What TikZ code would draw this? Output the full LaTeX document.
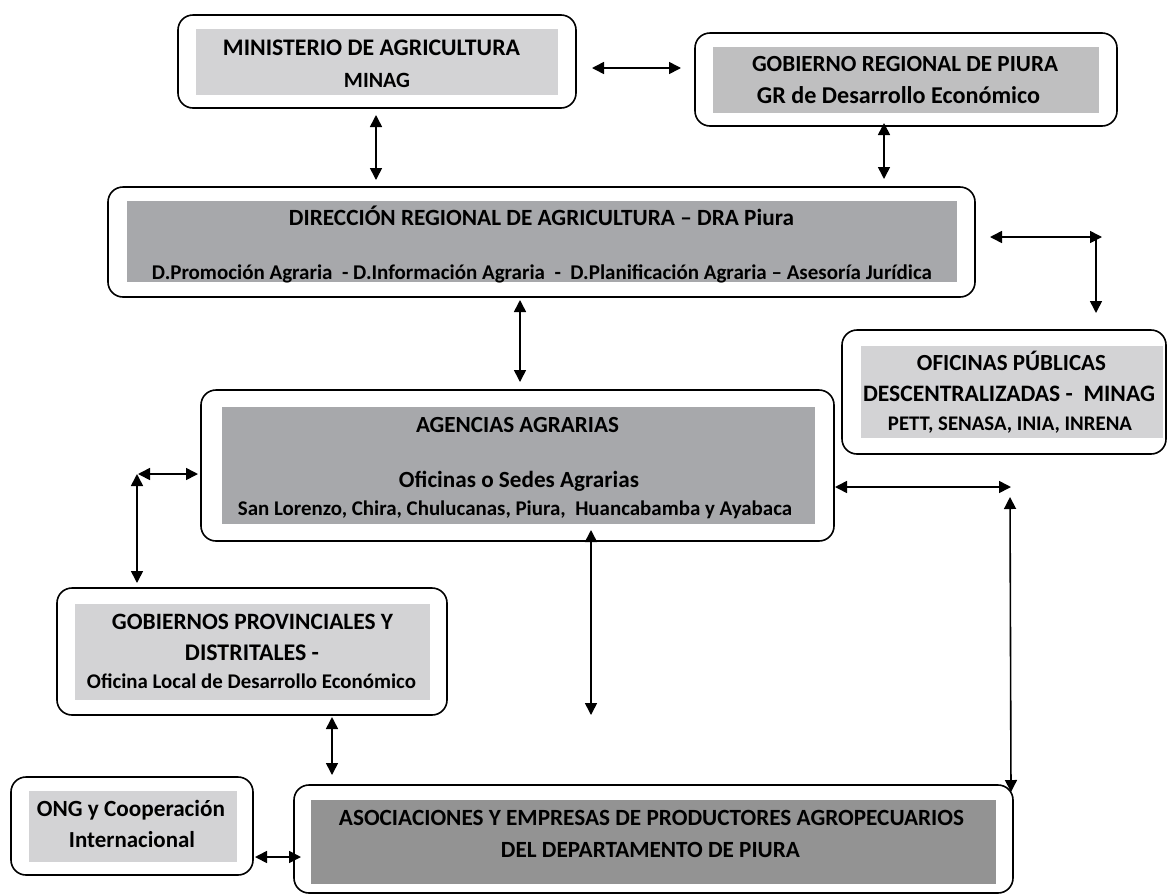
\documentclass[tikz,border=0pt]{standalone}
\usepackage{fontspec}
\setmainfont{Carlito}
\usepackage{graphicx}
\usetikzlibrary{arrows.meta}
\definecolor{lgray}{HTML}{D3D3D5}
\definecolor{ggray}{HTML}{BFBFC0}
\definecolor{mgray}{HTML}{A7A8AB}
\definecolor{dgray}{HTML}{939393}
\newcommand{\fitw}[2]{\resizebox{#1pt}{!}{\bfseries #2}}
\tikzset{
  obox/.style={draw=black, line width=1.6pt, rounded corners=15pt, inner sep=0pt, fill=white},
  ibox/.style={draw=none, inner sep=0pt},
  txt/.style={inner sep=0pt, anchor=base, text=black},
  arr/.style={{Triangle[length=12pt,width=12pt]}-{Triangle[length=12pt,width=12pt]}, line width=1.6pt},
  arrend/.style={-{Triangle[length=12pt,width=12pt]}, line width=1.6pt},
  plain/.style={line width=1.6pt}
}
\begin{document}
\begin{tikzpicture}[x=1pt,y=-1pt]
\useasboundingbox (0,0) rectangle (1168,895);
% ---------- boxes ----------
\node[obox, minimum width=398pt, minimum height=93pt] (minag) at (377,61.5) {};
\node[ibox, fill=lgray, minimum width=362pt, minimum height=66pt] (minagin) at (377,62) {};
\node[txt] (minagt1) at (371.5,55) {\fitw{297}{MINISTERIO DE AGRICULTURA}};
\node[txt] (minagt2) at (377,87) {\fitw{66}{MINAG}};

\node[obox, minimum width=422pt, minimum height=93pt] (gr) at (906,79.5) {};
\node[ibox, fill=ggray, minimum width=386pt, minimum height=66pt] (grin) at (906,80) {};
\node[txt] (grt1) at (905,71) {\fitw{306}{GOBIERNO REGIONAL DE PIURA}};
\node[txt] (grt2) at (898.5,103) {\fitw{283}{GR de Desarrollo Económico}};

\node[obox, minimum width=867pt, minimum height=110pt] (dra) at (541.5,242) {};
\node[ibox, fill=mgray, minimum width=830pt, minimum height=81pt] (drain) at (542,241.5) {};
\node[txt] (drat1) at (541.5,225) {\fitw{505}{DIRECCIÓN REGIONAL DE AGRICULTURA – DRA Piura}};
\node[txt] (drat2) at (542,279) {\fitw{780}{D.Promoción Agraria \ - D.Información Agraria \ - \ D.Planificación Agraria – Asesoría Jurídica}};

\node[obox, minimum width=324pt, minimum height=124pt] (ofic) at (1004,392) {};
\node[ibox, fill=lgray, minimum width=302pt, minimum height=92pt] (oficin) at (1012,392) {};
\node[txt] (ofict1) at (1011.5,370) {\fitw{189}{OFICINAS PÚBLICAS}};
\node[txt] (ofict2) at (1009,401) {\fitw{292}{DESCENTRALIZADAS - \ MINAG}};
\node[txt] (ofict3) at (1010,430) {\fitw{244}{PETT, SENASA, INIA, INRENA}};

\node[obox, minimum width=633pt, minimum height=151pt] (ag) at (517.5,465.5) {};
\node[ibox, fill=mgray, minimum width=593pt, minimum height=117pt] (agin) at (518.5,465.5) {};
\node[txt] (agt1) at (517.5,432) {\fitw{203}{AGENCIAS AGRARIAS}};
\node[txt] (agt2) at (519,487) {\fitw{240}{Oficinas o Sedes Agrarias}};
\node[txt] (agt3) at (515,515) {\fitw{554}{San Lorenzo, Chira, Chulucanas, Piura, \ Huancabamba y Ayabaca}};

\node[obox, minimum width=390pt, minimum height=127pt] (gob) at (252,651.5) {};
\node[ibox, fill=lgray, minimum width=355pt, minimum height=96pt] (gobin) at (252.5,652) {};
\node[txt] (gobt1) at (252.5,629) {\fitw{281}{GOBIERNOS PROVINCIALES Y}};
\node[txt] (gobt2) at (252,660) {\fitw{134}{DISTRITALES -}};
\node[txt] (gobt3) at (251.5,688) {\fitw{329}{Oficina Local de Desarrollo Económico}};

\node[obox, minimum width=242pt, minimum height=98pt] (ong) at (132,826) {};
\node[ibox, fill=lgray, minimum width=208pt, minimum height=71pt] (ongin) at (133,826.5) {};
\node[txt] (ongt1) at (131,816) {\fitw{188}{ONG y Cooperación}};
\node[txt] (ongt2) at (132,847) {\fitw{126}{Internacional}};

\node[obox, minimum width=719pt, minimum height=108pt] (asoc) at (653.5,839) {};
\node[ibox, fill=dgray, minimum width=685pt, minimum height=84pt] (asocin) at (653.5,842) {};
\node[txt] (asoct1) at (651.5,825) {\fitw{625}{ASOCIACIONES Y EMPRESAS DE PRODUCTORES AGROPECUARIOS}};
\node[txt] (asoct2) at (650.5,857) {\fitw{299}{DEL DEPARTAMENTO DE PIURA}};

% ---------- connector end points ----------
\coordinate (a1s) at (592,68);   \coordinate (a1e) at (681,68);
\coordinate (a2s) at (376,115);  \coordinate (a2e) at (376,180);
\coordinate (a3s) at (884,123);  \coordinate (a3e) at (884,179);
\coordinate (a4s) at (990,237);  \coordinate (a4e) at (1102,237);
\coordinate (a4k) at (1096,237); \coordinate (a4d) at (1096,313);
\coordinate (a5s) at (520,300);  \coordinate (a5e) at (520,382);
\coordinate (a6s) at (138,474);  \coordinate (a6e) at (198,474);
\coordinate (a6k) at (137,474);  \coordinate (a6d) at (137,583);
\coordinate (a7s) at (835,487);  \coordinate (a7e) at (1011,487);
\coordinate (a7k) at (1010,497); \coordinate (a7d) at (1011,792);
\coordinate (a8s) at (591,530);  \coordinate (a8e) at (591,715);
\coordinate (a9s) at (332,717);  \coordinate (a9e) at (332,775);
\coordinate (a10s) at (255,857); \coordinate (a10e) at (301,857);

% ---------- connectors ----------
\draw[arr] (a1s) -- (a1e);
\draw[arr] (a2s) -- (a2e);
\draw[arr] (a3s) -- (a3e);
\draw[arr] (a4s) -- (a4e);
\draw[arrend] (a4k) -- (a4d);
\draw[arr] (a5s) -- (a5e);
\draw[arr] (a6s) -- (a6e);
\draw[arr] (a6k) -- (a6d);
\draw[arr] (a7s) -- (a7e);
\draw[arr] (a7k) -- (a7d);
\draw[arr] (a8s) -- (a8e);
\draw[arr] (a9s) -- (a9e);
\draw[arr] (a10s) -- (a10e);
\end{tikzpicture}
\end{document}
